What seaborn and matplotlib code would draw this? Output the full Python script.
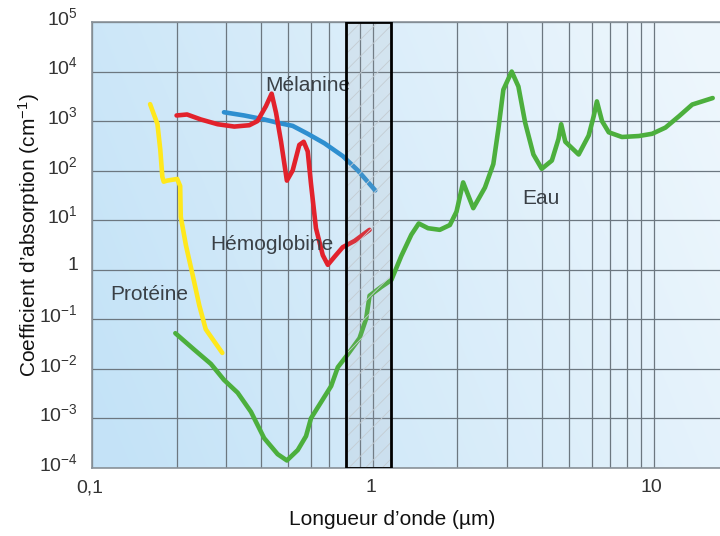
import numpy as np
import pandas as pd
import matplotlib
matplotlib.use("Agg")
import matplotlib.pyplot as plt
import seaborn as sns
from matplotlib.ticker import FixedLocator, FixedFormatter, NullLocator, NullFormatter
from matplotlib.transforms import ScaledTranslation

sns.set_theme(style="white")
plt.rcParams['font.family'] = ['Liberation Sans', 'DejaVu Sans']
plt.rcParams['mathtext.fontset'] = 'custom'
plt.rcParams['mathtext.rm'] = 'Liberation Sans'
plt.rcParams['mathtext.it'] = 'Liberation Sans:italic'
plt.rcParams['mathtext.bf'] = 'Liberation Sans:bold'
plt.rcParams['hatch.linewidth'] = 0.6

# ---------------- data ----------------
proteine_x = [0.161, 0.171, 0.175, 0.178, 0.180, 0.185, 0.201, 0.206, 0.207,
              0.216, 0.228, 0.241, 0.254, 0.291]
proteine_y = [2200, 870, 265, 75, 60, 63, 68, 49, 11.7, 3.1, 0.8, 0.19, 0.063, 0.021]

hemoglobine_x = [0.200, 0.218, 0.244, 0.280, 0.321, 0.363, 0.388, 0.416, 0.436,
                 0.452, 0.471, 0.494, 0.518, 0.547, 0.567, 0.586, 0.602, 0.627,
                 0.663, 0.691, 0.730, 0.781, 0.861, 0.973]
hemoglobine_y = [1300, 1360, 1080, 865, 776, 826, 1000, 2000, 3580, 1470, 383,
                 63, 101, 331, 383, 245, 54, 6.9, 1.97, 1.26, 1.83, 2.86, 3.83, 6.4]

melanine_x = [0.295, 0.348, 0.410, 0.458, 0.518, 0.586, 0.672, 0.781, 0.884, 1.019]
melanine_y = [1510, 1300, 1080, 927, 802, 555, 357, 197, 101, 40]

eau_x = [0.198, 0.231, 0.265, 0.295, 0.330, 0.368, 0.410, 0.458, 0.494, 0.540,
         0.578, 0.602, 0.654, 0.710, 0.750, 0.814, 0.896, 0.946, 0.973, 1.070,
         1.163, 1.262, 1.370, 1.456, 1.571, 1.730, 1.879, 1.984, 2.095, 2.276,
         2.505, 2.683, 2.796, 2.913, 3.119, 3.295, 3.483, 3.727, 3.99, 4.335,
         4.579, 4.68, 4.84, 5.40, 5.86, 6.11, 6.27, 6.54, 6.91, 7.70, 8.84,
         9.86, 11.0, 12.3, 13.7, 16.2]
eau_y = [0.0525, 0.0245, 0.0126, 0.0060, 0.0033, 0.00136, 0.00040, 0.00019,
         0.000142, 0.00023, 0.00044, 0.00101, 0.00214, 0.0045, 0.0108, 0.0197,
         0.0417, 0.103, 0.30, 0.45, 0.62, 1.9, 5.1, 8.6, 6.9, 6.4, 8.0, 14.9,
         58, 17.5, 45.7, 136, 690, 4300, 10000, 5000, 927, 212, 109, 160, 440,
         865, 383, 212, 510, 1260, 2500, 1000, 595, 478, 500, 555, 740, 1260,
         2160, 2920]

x_ticks = [0.1, 1, 10]
x_tick_labels = ["0,1", "1", "10"]
x_minor = [0.2, 0.3, 0.4, 0.5, 0.6, 0.7, 0.8, 0.9, 2, 3, 4, 5, 6, 7, 8, 9]
y_ticks = [1e-4, 1e-3, 1e-2, 1e-1, 1, 1e1, 1e2, 1e3, 1e4, 1e5]
y_tick_labels = ["$10^{-4}$", "$10^{-3}$", "$10^{-2}$", "$10^{-1}$", "1",
                 "$10^{1}$", "$10^{2}$", "$10^{3}$", "$10^{4}$", "$10^{5}$"]

series = [
    ("Eau", eau_x, eau_y, "#4caf3d", 3),
    ("Protéine", proteine_x, proteine_y, "#ffe81c", 3),
    ("Mélanine", melanine_x, melanine_y, "#2e8fd0", 3),
    ("Hémoglobine", hemoglobine_x, hemoglobine_y, "#e2222c", 4),
]
labels = [
    ("Mélanine", 0.586, 5200),
    ("Hémoglobine", 0.436, 3.2),
    ("Protéine", 0.160, 0.32),
    ("Eau", 3.98, 28),
]
band = (0.8, 1.16)

# ---------------- figure ----------------
fig = plt.figure(figsize=(7.2, 5.36), dpi=100)
pos = [92 / 720, 1 - 468 / 536, (720 - 92) / 720, (468 - 22) / 536]

# gradient background
bg = fig.add_axes(pos, zorder=0)
u = np.linspace(0, 1, 300)[None, :]
v = np.linspace(1, 0, 220)[:, None]
t = np.clip(0.85 * u + 0.25 * v - 0.05, 0, 1)
c0 = np.array([0.77, 0.89, 0.97])
c1 = np.array([0.93, 0.966, 0.99])
img = c0[None, None, :] * (1 - t[..., None]) + c1[None, None, :] * t[..., None]
bg.imshow(img, aspect="auto", extent=[0, 1, 0, 1], interpolation="bilinear")
bg.set_axis_off()

ax = fig.add_axes(pos, zorder=1)
ax.set_facecolor("none")
ax.set_xscale("log")
ax.set_yscale("log")

for name, xs, ys, col, z in series:
    df = pd.DataFrame({"x": xs, "y": ys})
    sns.lineplot(data=df, x="x", y="y", ax=ax, sort=False, estimator=None,
                 color=col, linewidth=3.3, zorder=z,
                 solid_joinstyle="round", solid_capstyle="round")

for txt, xv, yv in labels:
    ax.text(xv, yv, txt, ha="center", va="center", fontsize=15,
            color="#3a4046", zorder=4.5)

# hatched band
ax.axvspan(*band, facecolor=(0.62, 0.64, 0.67, 0.13), edgecolor="none", zorder=5)
ax.axvspan(*band, facecolor="none", edgecolor="#c4ccd2", hatch="//",
           linewidth=0, zorder=5.1)
ax.axvspan(*band, facecolor="none", edgecolor="black", linewidth=2, zorder=6)

ax.set_xlim(0.1, 17.2)
ax.set_ylim(1e-4, 1e5)

ax.xaxis.set_major_locator(FixedLocator(x_ticks))
ax.xaxis.set_major_formatter(FixedFormatter(x_tick_labels))
ax.xaxis.set_minor_locator(FixedLocator(x_minor))
ax.xaxis.set_minor_formatter(NullFormatter())
ax.yaxis.set_major_locator(FixedLocator(y_ticks))
ax.yaxis.set_major_formatter(FixedFormatter(y_tick_labels))
ax.yaxis.set_minor_locator(NullLocator())

ax.grid(True, which="both", color="#6c7780", linewidth=0.9)
ax.set_axisbelow(True)
ax.tick_params(axis="both", which="both", length=0, labelsize=14,
               labelcolor="#333333")
ax.tick_params(axis="y", pad=10)
ax.tick_params(axis="x", pad=8)

off = ScaledTranslation(0, 6 / 100, fig.dpi_scale_trans)
for lab in ax.get_yticklabels():
    lab.set_transform(lab.get_transform() + off)
offx = ScaledTranslation(-2 / 100, 0, fig.dpi_scale_trans)
for lab in ax.get_xticklabels():
    lab.set_transform(lab.get_transform() + offx)

for s in ["left", "top", "bottom"]:
    ax.spines[s].set_color("#8a9299")
    ax.spines[s].set_linewidth(1.2)
ax.spines["right"].set_visible(False)

ax.set_xlabel("Longueur d’onde (µm)", fontsize=15, color="#111111")
ax.set_ylabel("Coefficient d’absorption (cm$^{-1}$)", fontsize=15, color="#111111")
ax.xaxis.set_label_coords(0.478, -0.095)
ax.yaxis.set_label_coords(-0.080, 0.522)

fig.savefig("out.png", dpi=100)
